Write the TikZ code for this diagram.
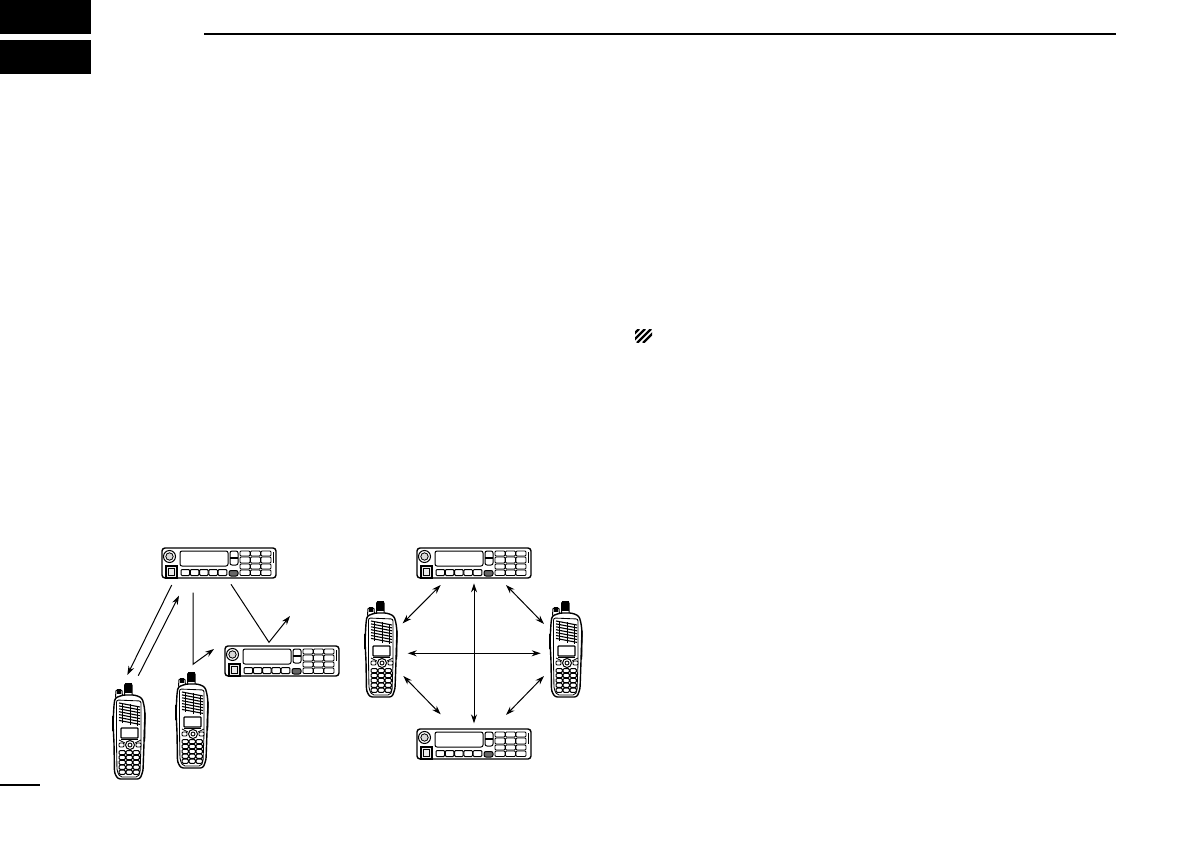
\documentclass[tikz,border=0pt]{standalone}
\usetikzlibrary{arrows.meta}
\tikzset{
  link/.style={line width=1pt,black,-{Stealth[length=9pt,width=6pt]}},
  twoway/.style={line width=1pt,black,{Stealth[length=9pt,width=6pt]}-{Stealth[length=9pt,width=6pt]}},
  part/.style={line width=1pt,black,fill=white},
  thin part/.style={line width=0.85pt,black},
  mobile/.pic={
    \draw[line width=1.4pt,rounded corners=3pt,fill=white] (0,0) rectangle (114,30);
    \draw[part] (7.5,8.5) circle (6);
    \draw[thin part,fill=black!15] (7.5,8.5) circle (3.7);
    \draw[part,rounded corners=2pt] (18,3) rectangle (66,18);
    \draw[part,rounded corners=2pt] (68,3) rectangle (76,17);
    \draw[line width=2pt] (68,10) -- (76,10);
    \draw[part,line width=1.5pt,fill=black!8] (4,18) rectangle (15,30);
    \draw[thin part] (6.5,20.5) rectangle (12.5,27);
    \foreach \i in {0,...,4}
      \draw[part,rounded corners=1pt] ({19+9.3*\i},21.5) rectangle ++(8.6,6);
    \draw[line width=1pt,fill=black!60,rounded corners=2pt] (67,22.5) rectangle (76,28);
    \foreach \c in {0,1,2} \foreach \r/\t/\b in {0/3/8,1/9/15,2/16/21,3/22/27.5}
      \draw[thin part,rounded corners=1pt,fill=white] ({78+10.5*\c},\t) rectangle ++(10,\b-\t);
    \draw[line width=1.2pt] (111.5,4) -- (111.5,15);
  },
  handheld/.pic={
    \draw[part,rounded corners=1pt] (2.5,15) -- (3,7) -- (9,7) -- (9.5,15) -- cycle;
    \fill (3.8,5.5) rectangle (8.2,11);
    \draw[part,rounded corners=1pt] (11.5,14) -- (11.5,1) -- (19,1) -- (19,14) -- cycle;
    \fill (12,0) rectangle (18.5,10);
    \draw[line width=1.4pt,fill=white,rounded corners=2.5pt]
      (2,15) -- (10,12) -- (22,12) -- (29,15) -- (31,22) -- (32,30) -- (31,60)
      -- (30,88) -- (27,96) -- (5,96) -- (1.5,90) -- (1,60) -- (0,40) -- (1,22) -- cycle;
    \draw[thin part,rounded corners=2pt] (3.5,17) -- (28,18) -- (28,62) -- (27,90) -- (25,94) -- (7,94) -- (4,88) -- (3.5,60) -- cycle;
    \foreach \k in {0,...,6}
      \draw[line width=1.1pt] (6,{20+2.9*\k}) -- (27,{24+2.9*\k});
    \draw[line width=0.8pt] (9,20) -- (9,40) (17,21) -- (17,42) (24,23) -- (24,43);
    \draw[part,line width=1.2pt,rounded corners=0.8pt] (8,45) rectangle (25,55);
    \draw[thin part,rounded corners=1pt] (6,57) -- (12,60) (28,57) -- (22,60);
    \draw[thin part] (8,56.5) -- (25,56.5);
    \draw[part] (17,62) circle (4.5);
    \draw[thin part] (17,62) circle (2);
    \draw[thin part,rounded corners=1pt,fill=white] (6,60) rectangle (11,64) (23,60) rectangle (28,64);
    \foreach \r in {0,...,4} \foreach \c in {0,1,2}
      \draw[line width=1pt,rounded corners=1.2pt,fill=white] ({6+7*\c},{67.5+4.9*\r}) rectangle ++(6.4,4.2);
    \draw[line width=1.4pt] (32,30) -- (31.5,58);
    \draw[line width=1.4pt] (0,33) -- (0,48);
  }
}
\begin{document}
\begin{tikzpicture}[x=1pt,y=-1pt]
\useasboundingbox (0,0) rectangle (1191,842);
\fill[white] (0,0) rectangle (1191,842);
% page furniture
\fill[black] (0,0) rectangle (91,34);
\fill[black] (0,40) rectangle (91,74);
\draw[line width=1.8pt] (204,34) -- (1116,34);
\draw[line width=1.6pt] (0,785) -- (40,785);
% hatch icon
\begin{scope}
\clip (635,329) rectangle (652,342);
\foreach \d in {0,6,12,18}
  \draw[line width=2.2pt] ({625+\d},343) -- ({639+\d},329);
\end{scope}
% left group
\pic (m1) at (162,548) {mobile};
\pic (m2) at (225,646) {mobile};
\pic (h1) at (113,683) {handheld};
\pic (h2) at (176,672) {handheld};
% right group
\pic (m3) at (417,548) {mobile};
\pic (m4) at (417,729) {mobile};
\pic (h3) at (365,601) {handheld};
\pic (h4) at (550,601) {handheld};
% connector ends
\coordinate (a1) at (171.7,585); \coordinate (a2) at (127.3,675);
\coordinate (b1) at (138.3,675.7); \coordinate (b2) at (179,595.7);
\coordinate (c1) at (193,592.7); \coordinate (c2) at (193,664.3); \coordinate (c3) at (214,649);
\coordinate (d1) at (231,584.3); \coordinate (d2) at (269,642.3); \coordinate (d3) at (290,616);
\coordinate (e1) at (402.7,623.3); \coordinate (e2) at (440.7,585);
\coordinate (f1) at (506,585); \coordinate (f2) at (544,624);
\coordinate (g1) at (474,583.3); \coordinate (g2) at (474,723.3);
\coordinate (i1) at (407.7,653.3); \coordinate (i2) at (540.7,653.3);
\coordinate (j1) at (403.3,676); \coordinate (j2) at (440.7,714.3);
\coordinate (k1) at (506,715); \coordinate (k2) at (544,676);
\draw[link] (a1) -- (a2);
\draw[link] (b1) -- (b2);
\draw[link] (c1) -- (c2) -- (c3);
\draw[link] (d1) -- (d2) -- (d3);
\draw[twoway] (e1) -- (e2);
\draw[twoway] (f1) -- (f2);
\draw[twoway] (g1) -- (g2);
\draw[twoway] (i1) -- (i2);
\draw[twoway] (j1) -- (j2);
\draw[twoway] (k1) -- (k2);
\end{tikzpicture}
\end{document}
